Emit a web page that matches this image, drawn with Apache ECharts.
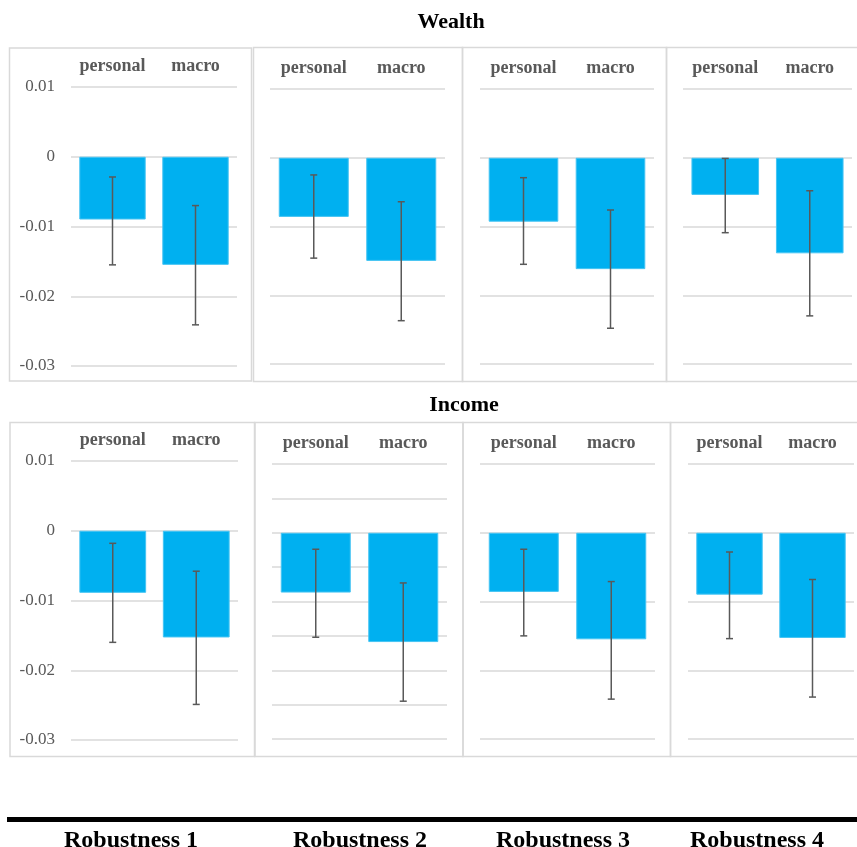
<!DOCTYPE html>
<html>
<head>
<meta charset="utf-8">
<script src="https://cdn.jsdelivr.net/npm/echarts@6/dist/echarts.min.js"></script>
<style>
  html, body { margin: 0; padding: 0; background: #fff; }
  #main { width: 857px; height: 847px; }
</style>
</head>
<body>
<div id="main"></div>
<script>
// categories and panel names
var categories = ['personal', 'macro'];
var robustness = ['Robustness 1', 'Robustness 2', 'Robustness 3', 'Robustness 4'];
var yTicks = [0.01, 0, -0.01, -0.02, -0.03];

// Wealth: bar values and error bar ends (upper, lower)
var wealthPersonal = [-0.0090, -0.0086, -0.0093, -0.0054];
var wealthMacro = [-0.0155, -0.0150, -0.0162, -0.0139];
var wealthPersonalHi = [-0.0029, -0.0025, -0.0029, -0.0001];
var wealthPersonalLo = [-0.0155, -0.0146, -0.0155, -0.0109];
var wealthMacroHi = [-0.0070, -0.0064, -0.0076, -0.0048];
var wealthMacroLo = [-0.0241, -0.0237, -0.0248, -0.0230];

// Income
var incomePersonal = [-0.0089, -0.0087, -0.0086, -0.0090];
var incomeMacro = [-0.0153, -0.0159, -0.0155, -0.0153];
var incomePersonalHi = [-0.0018, -0.0024, -0.0024, -0.0028];
var incomePersonalLo = [-0.0160, -0.0152, -0.0150, -0.0154];
var incomeMacroHi = [-0.0058, -0.0073, -0.0071, -0.0068];
var incomeMacroLo = [-0.0249, -0.0245, -0.0242, -0.0239];

var SERIF = '"Liberation Serif", "Times New Roman", serif';
var GRAY = '#595959';
var LINE = '#d9d9d9';

// plot areas (layout only)
var grids = [
  {left: 71, top: 87, width: 166, height: 279},
  {left: 270, top: 89, width: 175, height: 275},
  {left: 480, top: 89, width: 174, height: 275},
  {left: 683, top: 89, width: 169, height: 275},
  {left: 71, top: 461, width: 167, height: 279},
  {left: 272, top: 464, width: 175, height: 275},
  {left: 480, top: 464, width: 175, height: 275},
  {left: 688, top: 464, width: 166, height: 275}
];
// panel frames
var frames = [
  [9.5, 48, 242, 333], [253.5, 47.5, 209, 334], [462.5, 47.5, 204, 334], [666.5, 47.5, 200, 334],
  [10, 422.5, 244.5, 334], [255, 422.5, 208, 334], [463, 422.5, 207.5, 334], [670.5, 422.5, 200, 334]
];
// Income Robustness 2 uses finer gridlines
var intervals = [0.01, 0.01, 0.01, 0.01, 0.01, 0.005, 0.01, 0.01];

var chartDom = document.getElementById('main');
var myChart = echarts.init(chartDom);

function errorBar(params, api) {
  var x = api.value(0);
  var hi = api.coord([x, api.value(1)]);
  var lo = api.coord([x, api.value(2)]);
  var hw = 3.5;
  var st = {stroke: GRAY, lineWidth: 1.5};
  return {
    type: 'group',
    children: [
      {type: 'line', shape: {x1: hi[0], y1: hi[1], x2: lo[0], y2: lo[1]}, style: st},
      {type: 'line', shape: {x1: hi[0] - hw, y1: hi[1], x2: hi[0] + hw, y2: hi[1]}, style: st},
      {type: 'line', shape: {x1: lo[0] - hw, y1: lo[1], x2: lo[0] + hw, y2: lo[1]}, style: st}
    ]
  };
}

var grid = [], xAxis = [], yAxis = [], series = [], graphic = [];

for (var i = 0; i < 8; i++) {
  var row = i < 4 ? 'wealth' : 'income';
  var j = i % 4;
  var pVal = row === 'wealth' ? wealthPersonal : incomePersonal;
  var mVal = row === 'wealth' ? wealthMacro : incomeMacro;
  var pHi = row === 'wealth' ? wealthPersonalHi : incomePersonalHi;
  var pLo = row === 'wealth' ? wealthPersonalLo : incomePersonalLo;
  var mHi = row === 'wealth' ? wealthMacroHi : incomeMacroHi;
  var mLo = row === 'wealth' ? wealthMacroLo : incomeMacroLo;

  grid.push(Object.assign({containLabel: false}, grids[i]));
  xAxis.push({
    type: 'category',
    gridIndex: i,
    position: 'top',
    data: categories,
    axisLine: {show: false},
    axisTick: {show: false},
    axisLabel: {
      interval: 0,
      margin: 12,
      color: GRAY,
      fontFamily: SERIF,
      fontWeight: 'bold',
      fontSize: 18
    }
  });
  yAxis.push({
    type: 'value',
    gridIndex: i,
    min: yTicks[yTicks.length - 1],
    max: yTicks[0],
    interval: intervals[i],
    axisLine: {show: false},
    axisTick: {show: false},
    splitLine: {lineStyle: {color: LINE, width: 1.5}},
    axisLabel: {
      show: j === 0,
      margin: 16,
      color: GRAY,
      fontFamily: SERIF,
      fontSize: 17,
      formatter: function (v) { return String(Math.round(v * 1000) / 1000); }
    }
  });
  series.push({
    type: 'bar',
    xAxisIndex: i,
    yAxisIndex: i,
    barWidth: '80%',
    itemStyle: {color: '#00b0f0', borderColor: '#45c4f3', borderWidth: 1},
    data: [pVal[j], mVal[j]],
    silent: true,
    animation: false
  });
  series.push({
    type: 'custom',
    xAxisIndex: i,
    yAxisIndex: i,
    renderItem: errorBar,
    encode: {x: 0, y: [1, 2]},
    data: [[0, pHi[j], pLo[j]], [1, mHi[j], mLo[j]]],
    z: 10,
    silent: true,
    animation: false
  });

  var f = frames[i];
  graphic.push({
    type: 'rect',
    shape: {x: f[0], y: f[1], width: f[2], height: f[3]},
    style: {fill: 'none', stroke: LINE, lineWidth: 1.5},
    silent: true,
    z: -1
  });
}

// row titles
graphic.push({
  type: 'text', x: 451, y: 22,
  style: {text: 'Wealth', fill: '#000', font: 'bold 22px ' + SERIF, textAlign: 'center', textVerticalAlign: 'middle'}
});
graphic.push({
  type: 'text', x: 464, y: 405,
  style: {text: 'Income', fill: '#000', font: 'bold 22px ' + SERIF, textAlign: 'center', textVerticalAlign: 'middle'}
});
// bottom rule and panel names
graphic.push({
  type: 'line',
  shape: {x1: 7, y1: 819.5, x2: 857, y2: 819.5},
  style: {stroke: '#000', lineWidth: 5}
});
var nameX = [131, 360, 563, 757];
robustness.forEach(function (name, k) {
  graphic.push({
    type: 'text', x: nameX[k], y: 841,
    style: {text: name, fill: '#000', font: 'bold 24px ' + SERIF, textAlign: 'center', textVerticalAlign: 'middle'}
  });
});

var option = {
  backgroundColor: '#fff',
  animation: false,
  grid: grid,
  xAxis: xAxis,
  yAxis: yAxis,
  series: series,
  graphic: graphic
};
myChart.setOption(option);
</script>
</body>
</html>
